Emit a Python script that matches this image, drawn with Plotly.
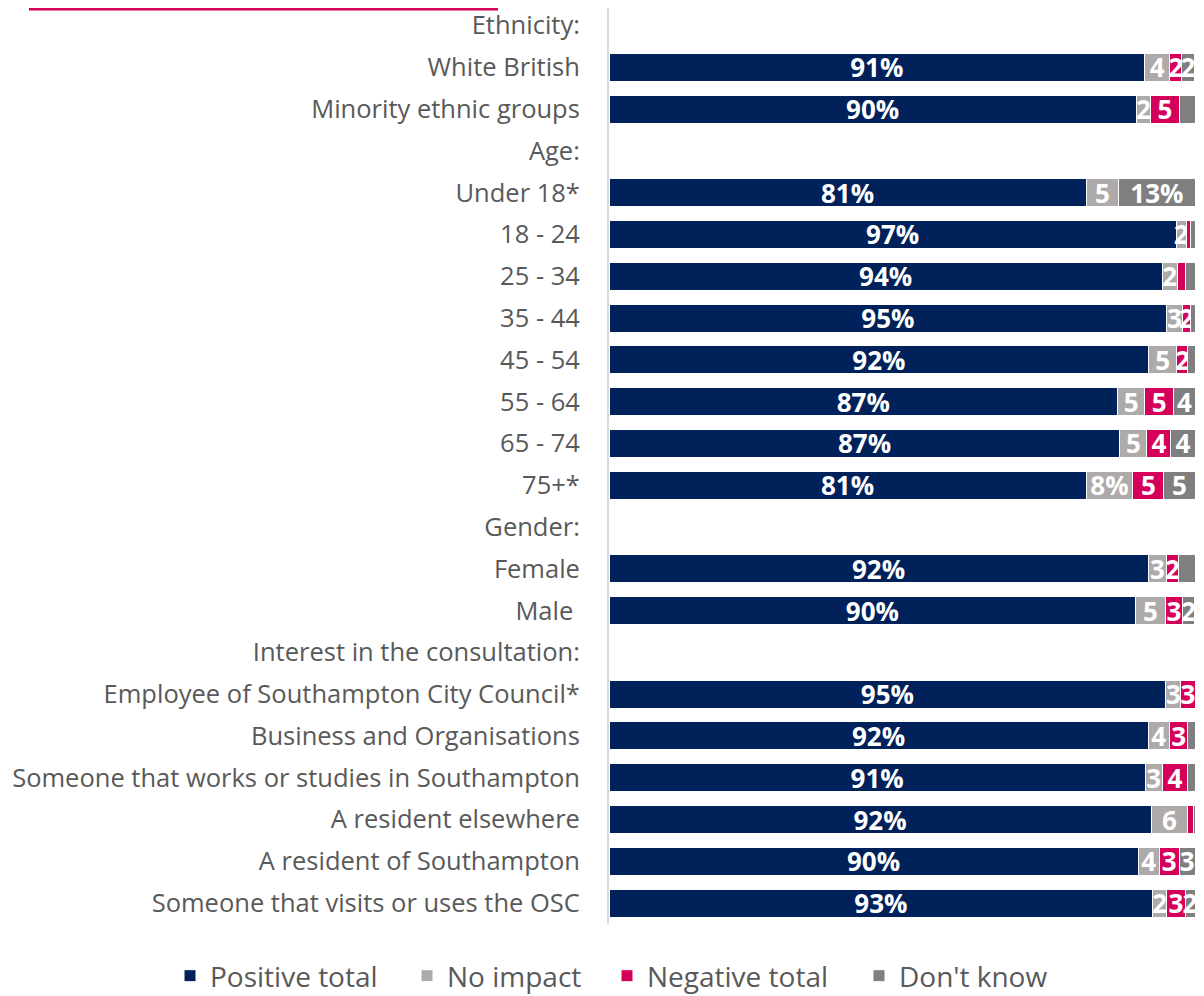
import plotly.graph_objects as go

categories = [
    "Ethnicity:", "White British", "Minority ethnic groups",
    "Age:", "Under 18*", "18 - 24", "25 - 34", "35 - 44", "45 - 54", "55 - 64", "65 - 74", "75+*",
    "Gender:", "Female", "Male ",
    "Interest in the consultation:", "Employee of Southampton City Council*", "Business and Organisations",
    "Someone that works or studies in Southampton", "A resident elsewhere", "A resident of Southampton",
    "Someone that visits or uses the OSC",
]

positive = [None, 91.4, 90.0, None, 81.4, 96.8, 94.4, 95.2, 92.1, 86.8, 87.2, 81.4,
            None, 92.0, 89.9, None, 95.0, 92.0, 91.5, 92.5, 90.3, 92.8]
no_impact = [None, 4.3, 2.4, None, 5.6, 1.7, 2.6, 2.6, 4.8, 4.6, 4.6, 8.0,
             None, 3.2, 5.0, None, 2.6, 3.6, 2.9, 6.3, 3.6, 2.4]
negative = [None, 2.0, 4.9, None, 0.0, 0.7, 1.4, 1.5, 1.9, 5.0, 4.1, 5.3,
            None, 1.9, 3.0, None, 2.4, 3.2, 4.4, 0.9, 3.4, 3.1]
dont_know = [None, 2.2, 2.7, None, 13.0, 0.8, 1.7, 0.7, 1.2, 3.6, 4.1, 5.3,
             None, 2.9, 2.0, None, 0.0, 1.2, 1.2, 0.3, 2.7, 1.7]

positive_labels = ["", "91%", "90%", "", "81%", "97%", "94%", "95%", "92%", "87%", "87%", "81%",
                   "", "92%", "90%", "", "95%", "92%", "91%", "92%", "90%", "93%"]
no_impact_labels = ["", "4", "2", "", "5", "2", "2", "3", "5", "5", "5", "8%",
                    "", "3", "5", "", "3", "4", "3", "6", "4", "2"]
negative_labels = ["", "2", "5", "", "", "", "", "2", "2", "5", "4", "5",
                   "", "2", "3", "", "3", "3", "4", "", "3", "3"]
dont_know_labels = ["", "2", "3", "", "13%", "", "2", "", "", "4", "4", "5",
                    "", "3", "2", "", "", "", "", "", "3", "2"]

series = [
    ("Positive total", positive, positive_labels, "#00215A"),
    ("No impact", no_impact, no_impact_labels, "#AEAAAA"),
    ("Negative total", negative, negative_labels, "#D5005A"),
    ("Don't know", dont_know, dont_know_labels, "#7F7F7F"),
]

FONT = "Open Sans"
W, H = 1188, 988          # page body has an 8px margin
L, R, T, B = 601, 1, 0, 72
PW, PH = W - L - R, H - T - B
legend_left_px = [162, 399, 599, 851]   # left edge of each legend entry (figure px)
legend_mid_px = 968

fig = go.Figure()
legend_ids = ["legend", "legend2", "legend3", "legend4"]
for (name, vals, labels, color), lid in zip(series, legend_ids):
    fig.add_trace(go.Bar(
        name=name, y=categories, x=vals, orientation="h", legend=lid,
        marker=dict(color=color, line=dict(color="#FFFFFF", width=1)),
        text=labels, textposition="inside", insidetextanchor="middle", textangle=0,
        textfont=dict(family=FONT, size=26, color="white", weight="bold"),
        constraintext="none", cliponaxis=False,
        hoverinfo="x+y+name",
    ))

legend_style = dict(orientation="h", xref="paper", yref="paper", xanchor="left", yanchor="middle",
                    y=-(legend_mid_px - PH) / PH,
                    font=dict(size=28, color="#595959", family=FONT),
                    bgcolor="rgba(0,0,0,0)")
legend_layout = {lid: dict(legend_style, x=(lx - L) / PW) for lid, lx in zip(legend_ids, legend_left_px)}

fig.update_layout(
    barmode="stack", bargap=0.33,
    width=W, height=H,
    margin=dict(l=L, r=R, t=T, b=B, autoexpand=False),
    paper_bgcolor="white", plot_bgcolor="white",
    font=dict(family=FONT, color="#595959", size=25.5),
    uniformtext=dict(minsize=26, mode="show"),
    showlegend=True,
    xaxis=dict(range=[0, 100], visible=False, showgrid=False, zeroline=False, automargin=False),
    yaxis=dict(range=[21.5, -0.42], showline=True, linecolor="#D9D9D9", linewidth=2,
               ticks="", ticklabelstandoff=22, showgrid=False, automargin=False,
               tickfont=dict(size=25.5, color="#595959", family=FONT)),
    shapes=[dict(type="line", xref="paper", yref="paper",
                 x0=(21 - L) / PW, x1=(490 - L) / PW,
                 y0=1 - 1 / PH, y1=1 - 1 / PH,
                 line=dict(color="#D5005A", width=3))],
    **legend_layout,
)

fig.write_html("out.html")
